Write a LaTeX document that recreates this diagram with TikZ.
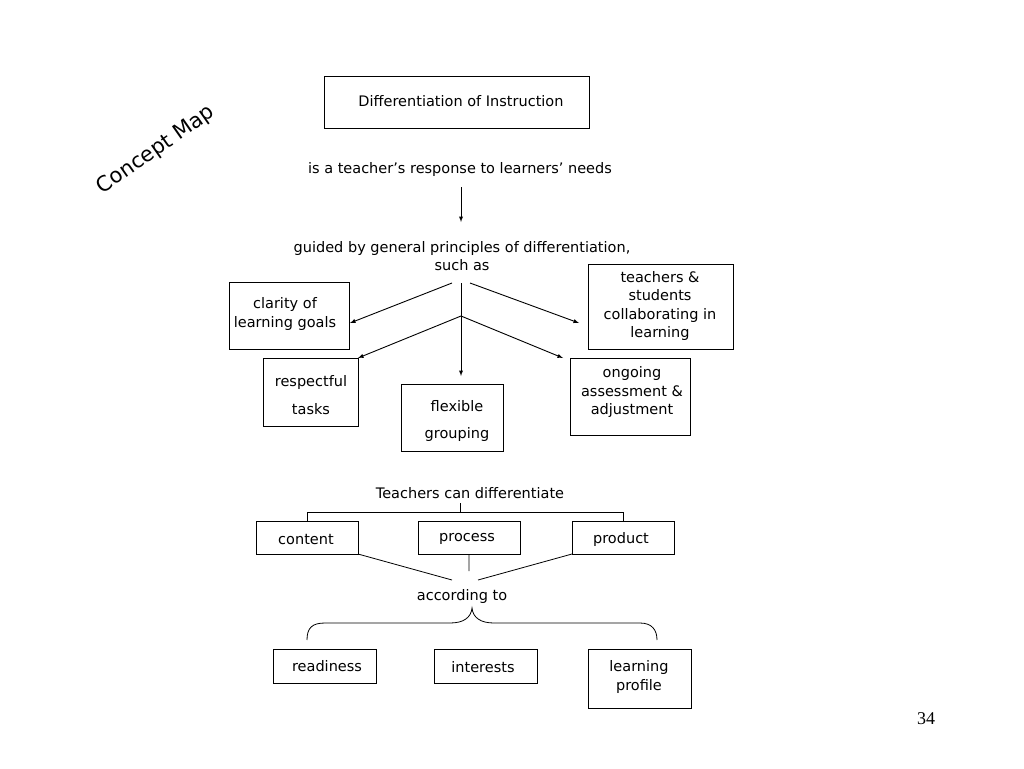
\documentclass[tikz,border=0pt]{standalone}
\usepackage{fontspec}
\setmainfont{DejaVu Sans}
\newfontfamily\numfont{Liberation Serif}
\begin{document}
\begin{tikzpicture}[x=1pt,y=-1pt,
  box/.style={draw,line width=0.8pt,inner sep=0pt},
  lbl/.style={font=\fontsize{14.5}{18.5}\selectfont,align=center},
  ln/.style={line width=0.8pt},
  arr/.style={line width=0.9pt,-latex}]
\useasboundingbox (0,0) rectangle (1024,768);
\node[box,minimum width=265,minimum height=52] (diff) at (456.5,102) {};
\node[lbl] (difft) at (461,101) {Differentiation of Instruction};
\node[lbl] (resp) at (460,169) {is a teacher’s response to learners’ needs};
\node[lbl] (guid) at (462,256) {guided by general principles of differentiation,\\such as};
\coordinate (a0) at (461,187); \coordinate (a1) at (461,222);
\draw[arr] (a0) -- (a1);
\node[box,minimum width=120,minimum height=67] (clar) at (289,315.5) {};
\node[lbl] at (285,314) {clarity of\\learning goals};
\node[box,minimum width=145,minimum height=85] (teach) at (660.5,306.5) {};
\node[lbl] at (660,306) {teachers \&\\students\\collaborating in\\learning};
\node[box,minimum width=95,minimum height=68] (resp2) at (310.5,392) {};
\node[lbl] at (311,395) {respectful\\[9pt]tasks};
\node[box,minimum width=102,minimum height=67] (flex) at (452,417.5) {};
\node[lbl] at (457,421) {flexible\\[9pt]grouping};
\node[box,minimum width=120,minimum height=77] (ong) at (630,396.5) {};
\node[lbl] at (632,392) {ongoing\\assessment \&\\adjustment};
\coordinate (s0) at (452,283); \coordinate (s1) at (470,283);
\coordinate (s2) at (461,283); \coordinate (m) at (461,316);
\draw[arr] (s0) -- (350,323);
\draw[arr] (s1) -- (579,323);
\draw[arr] (s2) -- (461,376);
\draw[arr] (m) -- (358,358);
\draw[arr] (m) -- (563,358);
\node[lbl] (tcd) at (470,493) {Teachers can differentiate};
\node[box,minimum width=102,minimum height=33] (cont) at (307,537.5) {};
\node[lbl] at (306,540) {content};
\node[box,minimum width=102,minimum height=33] (proc) at (469,537.5) {};
\node[lbl] at (467,539) {process};
\node[box,minimum width=102,minimum height=33] (prod) at (623,537.5) {};
\node[lbl] at (621,539) {product};
\draw[ln] (460,503) -- (460,512) (307,521) -- (307,512) -- (623,512) -- (623,521);
\draw[ln] (358,554) -- (452,580) (469,554) -- (469,571) (572,554) -- (478,580);
\node[lbl] (acc) at (462,596) {according to};
\draw[ln] (307,640) .. controls (307,628) and (312,623) .. (325,623) -- (450,623)
  .. controls (463,623) and (471,618) .. (472,608)
  .. controls (473,618) and (481,623) .. (494,623) -- (640,623)
  .. controls (652,623) and (657,630) .. (657,640);
\node[box,minimum width=103,minimum height=34] (read) at (324.5,666) {};
\node[lbl] at (327,666) {readiness};
\node[box,minimum width=103,minimum height=34] (int) at (485.5,666) {};
\node[lbl] at (483,667) {interests};
\node[box,minimum width=103,minimum height=59] (lp) at (639.5,678.5) {};
\node[lbl] at (639,677) {learning\\profile};
\node[font=\numfont\fontsize{18}{20}\selectfont] (pg) at (926,719) {34};
\node[font=\fontsize{21}{24}\selectfont,rotate=35] (cm) at (156,150) {Concept Map};
\end{tikzpicture}
\end{document}
